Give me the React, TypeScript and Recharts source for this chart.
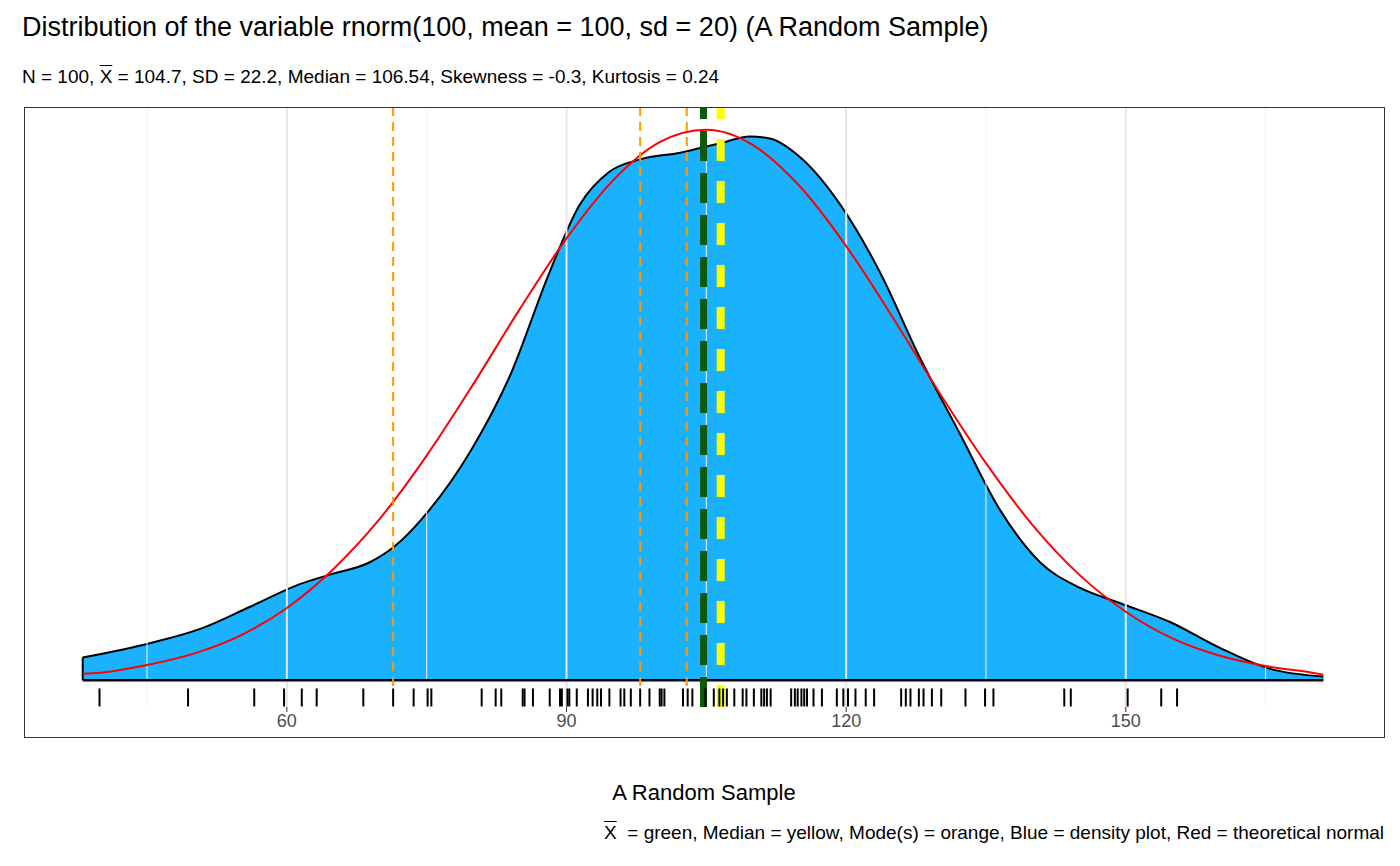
import {
  Area,
  ComposedChart,
  Line,
  ReferenceLine,
  Scatter,
  XAxis,
  YAxis,
} from "recharts";

// density estimate (height in arbitrary units)
const densX = [38.1, 45.3, 50.7, 56.0, 61.4, 64.6, 68.9, 71.6, 75.3, 79.6, 83.9, 88.2, 91.4, 94.6, 97.9, 102.2, 106.5, 109.7, 111.8, 115.1, 119.4, 123.6, 127.9, 132.2, 136.5, 140.8, 145.1, 149.4, 154.8, 160.1, 165.5, 171.2];
const densY = [24, 39, 54, 77, 101, 111, 124, 141, 179, 239, 319, 429, 499, 534, 547, 554, 564, 571, 569, 549, 499, 429, 339, 259, 179, 124, 97, 81, 61, 34, 12, 4];

// theoretical normal
const normX = [38.1, 40, 45, 50, 55, 60, 65, 70, 75, 80, 85, 90, 95, 100, 105, 110, 115, 120, 125, 130, 135, 140, 145, 150, 155, 160, 165, 170, 171.2];
const normY = [7, 8, 16, 28, 47, 76, 117, 170, 236, 311, 390, 464, 525, 565, 578, 562, 519, 456, 381, 302, 228, 163, 111, 72, 44, 26, 15, 8, 6];

const sample = [39.9, 49.4, 56.5, 59.7, 61.6, 63.2, 68.2, 71.4, 73.6, 75.1, 75.5, 80.9, 82.4, 83.0, 85.3, 85.5, 86.4, 88.2, 89.3, 89.5, 90.1, 90.3, 91.1, 92.3, 92.8, 93.3, 93.7, 94.6, 95.8, 96.2, 96.9, 97.9, 98.9, 100.0, 100.2, 100.5, 102.5, 103.0, 103.5, 104.9, 105.8, 106.4, 106.8, 107.2, 108.0, 108.9, 109.3, 110.1, 110.9, 111.2, 111.5, 111.9, 114.1, 114.5, 114.8, 115.2, 115.5, 115.8, 116.5, 117.4, 119.0, 119.7, 120.2, 121.0, 122.1, 123.0, 125.9, 126.4, 126.9, 127.8, 128.3, 129.2, 130.2, 132.8, 134.9, 135.8, 143.4, 144.1, 150.2, 153.8, 155.5];

const modes = [71.4, 97.9, 102.9];
const mean = 104.7;
const median = 106.54;
const majorTicks = [60, 90, 120, 150];
const minorTicks = [45, 75, 105, 135, 165];

const density = densX.map((x, i) => ({ x, y: densY[i] }));
const normal = normX.map((x, i) => ({ x, y: normY[i] }));
const rug = sample.map((x) => ({ x, y: -18 }));

const font = "'Liberation Sans', Arial, sans-serif";

const RugTick = ({ cx, cy }: any) => (
  <line x1={cx} x2={cx} y1={cy - 9} y2={cy + 9} stroke="#000" strokeWidth={2} />
);

export default function App() {
  return (
    <div style={{ position: "absolute", left: 0, top: 0, width: 1400, height: 866, fontFamily: font, background: "#fff" }}>
      <div style={{ position: "absolute", left: 22, top: 12, fontSize: 27, color: "#000", whiteSpace: "nowrap" }}>
        Distribution of the variable rnorm(100, mean = 100, sd = 20) (A Random Sample)
      </div>
      <div style={{ position: "absolute", left: 22, top: 66, fontSize: 19, color: "#000", whiteSpace: "nowrap" }}>
        N = 100, <span style={{ textDecoration: "overline" }}>X</span> = 104.7, SD = 22.2, Median = 106.54, Skewness = -0.3, Kurtosis = 0.24
      </div>
      <ComposedChart
        width={1400}
        height={866}
        margin={{ top: 107, right: 16, bottom: 129, left: 24 }}
      >
        <XAxis
          dataKey="x"
          type="number"
          domain={[31.8, 177.7]}
          ticks={majorTicks}
          allowDataOverflow
          axisLine={false}
          tickLine={{ stroke: "#333" }}
          tickSize={5}
          tick={{ fontSize: 18, fill: "#4d4d4d", fontFamily: font }}
        />
        <YAxis type="number" domain={[-28, 602]} hide allowDataOverflow />
        {minorTicks.map((t) => (
          <ReferenceLine key={"m" + t} x={t} stroke="#f2f2f2" strokeWidth={1} />
        ))}
        {majorTicks.map((t) => (
          <ReferenceLine key={"g" + t} x={t} stroke="#e6e6e6" strokeWidth={2} />
        ))}
        <Area
          data={density}
          dataKey="y"
          type="monotone"
          baseValue={0}
          fill="#1ab2ff"
          fillOpacity={1}
          stroke="#000"
          strokeWidth={2}
          isAnimationActive={false}
        />
        <ReferenceLine segment={[{ x: 38.1, y: 0 }, { x: 38.1, y: 24 }]} stroke="#000" strokeWidth={2} />
        <ReferenceLine segment={[{ x: 38.1, y: 0 }, { x: 171.2, y: 0 }]} stroke="#000" strokeWidth={2.5} />
        <ReferenceLine segment={[{ x: 31.6, y: 0 }, { x: 36.0, y: 0 }]} stroke="#000" strokeWidth={2.5} />
        <Line
          data={normal}
          dataKey="y"
          type="monotone"
          stroke="#ff0000"
          strokeWidth={2}
          dot={false}
          isAnimationActive={false}
        />
        {modes.map((m) => (
          <ReferenceLine key={"o" + m} segment={[{ x: m, y: 602 }, { x: m, y: -12 }]} stroke="#ff9900" strokeWidth={2} strokeDasharray="9 6" />
        ))}
        <ReferenceLine x={mean} stroke="#0a5a0a" strokeWidth={7} strokeDasharray="30 12" />
        <ReferenceLine x={median} stroke="#ffff00" strokeWidth={8} strokeDasharray="22 20" />
        <Scatter data={rug} dataKey="y" shape={RugTick} isAnimationActive={false} />
      </ComposedChart>
      <div style={{ position: "absolute", left: 24, top: 107, width: 1359, height: 629, border: "1px solid #333", pointerEvents: "none" }} />
      <div style={{ position: "absolute", left: 0, width: 1408, top: 780, textAlign: "center", fontSize: 22, color: "#000" }}>
        A Random Sample
      </div>
      <div style={{ position: "absolute", right: 16, top: 822, fontSize: 19, color: "#000", whiteSpace: "nowrap" }}>
        <span style={{ textDecoration: "overline" }}>X</span>&nbsp; = green, Median = yellow, Mode(s) = orange, Blue = density plot, Red = theoretical normal
      </div>
    </div>
  );
}
